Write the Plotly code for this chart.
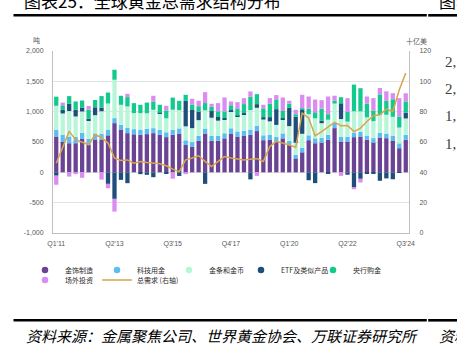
import plotly.graph_objects as go

# ---------------- data (tonnes, right axis: US$ bn) ----------------
quarters = [f"Q{q}'{y:02d}" for y in range(11, 25) for q in range(1, 5)][:55]

jewellery = [591, 500, 480, 480, 550, 454, 542, 542, 610, 811, 706, 646, 627, 619,
             630, 646, 619, 580, 620, 640, 450, 420, 520, 640, 520, 520, 560, 640,
             590, 600, 620, 680, 530, 540, 500, 560, 450, 230, 330, 530, 480, 490,
             536, 729, 508, 508, 580, 591, 536, 492, 574, 563, 525, 398, 536]
technology = [110, 115, 110, 105, 100, 100, 100, 95, 95, 83, 78, 85, 85, 85,
              88, 82, 80, 80, 82, 84, 78, 78, 80, 82, 80, 82, 84, 86,
              84, 85, 85, 84, 80, 80, 82, 82, 72, 58, 75, 80, 80, 80,
              82, 84, 80, 78, 76, 74, 70, 72, 74, 76, 80, 80, 82]
bar_coin = [396, 355, 420, 336, 353, 300, 300, 370, 430, 632, 329, 355, 264, 272,
            256, 303, 270, 230, 330, 300, 230, 230, 260, 300, 300, 250, 230, 280,
            250, 260, 320, 300, 260, 220, 200, 230, 240, 200, 230, 350, 330, 240,
            250, 320, 290, 250, 350, 340, 300, 280, 300, 310, 310, 260, 270]
etf = [-55, 60, 120, 110, 66, 30, 130, 60, -190, -437, -124, -179, 0, -30,
       -41, -80, 10, -25, 0, -60, 420, 300, 140, -190, 110, 60, 20, 20,
       10, 30, -116, 60, 40, 70, 260, 20, 300, 430, 400, -130, -178, 40,
       -27, 0, 260, -40, -250, -107, -25, -21, -139, -100, -114, -7, 95]
central_bank = [150, 75, 126, 137, 115, 150, 120, 190, 180, 165, 149, 154, 165, 137,
                176, 137, 135, 130, 200, 155, 100, 90, 90, 120, 70, 94, 110, 80,
                110, 150, 220, 165, 145, 224, 150, 120, 70, 40, 20, 90, 100, 200,
                90, 50, 100, 160, 440, 382, 228, 175, 337, 229, 290, 183, 186]
otc = [-150, 45, -70, -30, -90, 60, 0, -120, -72, -210, 0, 55, 0, 0,
       0, 94, 0, 77, -105, 0, -30, 95, 90, 180, 50, 135, 230, 62,
       113, 98, 88, -58, 59, 89, 81, 222, 48, 73, 223, 200, 210, 140,
       292, 80, -58, 227, -28, -60, 116, 205, 105, 157, 100, 302, 134]
total_value = [46, 56, 67, 61.5, 59.7, 58.2, 64.8, 63, 59.3, 49.4, 47.8, 48.2, 46, 47.2,
               46.5, 46, 45.6, 44.3, 42.1, 40.5, 48.2, 49.4, 50.9, 47.2, 43.8, 47.2, 50.4, 49.4,
               48.7, 48.2, 48.7, 49, 47.2, 57, 60.4, 59.3, 58, 56.5, 79, 75.8, 64, 66.9,
               70.2, 72.9, 70.7, 70.9, 66.9, 69.2, 73.5, 77.3, 77.9, 81.7, 80.1, 94.5, 105.5]

tick_quarters = quarters[::9]
left_ticks = [-1000, -500, 0, 500, 1000, 1500, 2000]
left_tick_text = ["-1,000", "-500", "0", "500", "1,000", "1,500", "2,000"]
right_ticks = [0, 20, 40, 60, 80, 100, 120]
next_chart_labels = ["2,", "2,", "1,", "1,"]

series = [
    ("金饰制造", jewellery, "#6B4394", "legend"),
    ("科技用金", technology, "#5BBEF2", "legend"),
    ("金条和金币", bar_coin, "#B8F6D9", "legend"),
    ("ETF及类似产品", etf, "#1F4E7A", "legend"),
    ("央行购金", central_bank, "#14C98E", "legend"),
    ("场外投资", otc, "#DA8CF2", "legend2"),
]
line_name = "总需求 (右轴)"
line_color = "#D9A54C"

CJK = "Noto Sans CJK SC, Liberation Sans, sans-serif"
SANS = "Liberation Sans, Arial, sans-serif"

fig = go.Figure()
for name, vals, color, _ in series:
    fig.add_trace(go.Bar(x=quarters, y=vals, name=name, marker=dict(color=color, line=dict(width=0)),
                         showlegend=False, hoverinfo="x+y+name"))
# legend entries with round symbols
for name, vals, color, lg in series:
    fig.add_trace(go.Scatter(x=[None], y=[None], mode="markers", name=name, legend=lg,
                             marker=dict(symbol="circle", size=6.5, color=color)))
fig.add_trace(go.Scatter(x=quarters, y=total_value, name=line_name, yaxis="y2", mode="lines",
                         legend="legend2", legendwidth=60,
                         line=dict(color=line_color, width=1.5)))

W, H = 457, 353
L, R, T, B = 53, 48, 51, 120
pw, ph = W - L - R, H - T - B


def px(x):
    return (x - L) / pw


def py(y):
    return (H - B - y) / ph


legend_common = dict(orientation="h", xanchor="left", yanchor="top", bgcolor="rgba(0,0,0,0)",
                     font=dict(family=CJK, size=7, color="#2B2B2B"), itemsizing="trace",
                     entrywidth=27, entrywidthmode="pixels", tracegroupgap=0, itemclick=False)

annotations = [
    dict(text="图表25：全球黄金总需求结构分布", x=px(22), y=py(0), xanchor="left", yanchor="middle",
         font=dict(family=CJK, size=17, color="#000000")),
    dict(text="图表", x=px(437), y=py(0), xanchor="left", yanchor="middle",
         font=dict(family=CJK, size=17, color="#000000")),
    dict(text="吨", x=px(36), y=py(40), xanchor="center", yanchor="middle",
         font=dict(family=CJK, size=7, color="#595959")),
    dict(text="十亿美", x=px(416), y=py(41), xanchor="center", yanchor="middle",
         font=dict(family=CJK, size=7, color="#595959")),
    dict(text="资料来源：金属聚焦公司、世界黄金协会、万联证券研究所", x=px(24), y=py(335),
         xanchor="left", yanchor="middle",
         font=dict(family=CJK, size=15, color="#000000", style="italic")),
    dict(text="资料", x=px(437), y=py(335), xanchor="left", yanchor="middle",
         font=dict(family=CJK, size=15, color="#000000", style="italic")),
]
for lab, yy in zip(next_chart_labels, [62, 89, 116, 144]):
    annotations.append(dict(text=lab, x=px(443), y=py(yy), xanchor="left", yanchor="middle",
                            font=dict(family="Liberation Serif, DejaVu Serif, serif", size=15,
                                      color="#404040")))
for a in annotations:
    a.update(xref="paper", yref="paper", showarrow=False)

shapes = []
for yy in (15.3, 320.3):
    for x0, x1 in ((13.5, 426.8), (428.2, 457)):
        shapes.append(dict(type="line", xref="paper", yref="paper", x0=px(x0), x1=px(x1),
                           y0=py(yy), y1=py(yy), line=dict(color="#000000", width=2.6)))

fig.update_layout(
    width=W, height=H,
    margin=dict(l=L, r=R, t=T, b=B, pad=0),
    paper_bgcolor="white", plot_bgcolor="white",
    barmode="relative", bargap=0.34,
    font=dict(family=SANS, size=7, color="#595959"),
    xaxis=dict(type="category", categoryorder="array", categoryarray=quarters,
               range=[-0.5, len(quarters) - 0.5],
               tickmode="array", tickvals=tick_quarters, ticktext=tick_quarters,
               showgrid=False, showline=True, linecolor="#BFBFBF", linewidth=1,
               ticks="", tickfont=dict(family=SANS, size=7, color="#595959"),
               ticklabelstandoff=4, fixedrange=True),
    yaxis=dict(range=[-1000, 2000], tickmode="array", tickvals=left_ticks, ticktext=left_tick_text,
               showgrid=True, gridcolor="#E3E3E3", gridwidth=1, zeroline=False,
               showline=True, linecolor="#BFBFBF", linewidth=1, ticks="",
               tickfont=dict(family=SANS, size=7, color="#595959"), ticklabelstandoff=7,
               fixedrange=True),
    yaxis2=dict(range=[0, 120], overlaying="y", side="right", tickmode="array", tickvals=right_ticks,
                showgrid=False, zeroline=False, showline=True, linecolor="#BFBFBF", linewidth=1,
                ticks="", tickfont=dict(family=SANS, size=7, color="#595959"), ticklabelstandoff=8,
                fixedrange=True),
    legend=dict(x=px(25), y=py(255.5), **legend_common),
    legend2=dict(x=px(25), y=py(265.5), **legend_common),
    annotations=annotations,
    shapes=shapes,
    showlegend=True,
)

fig.write_html("out.html")
